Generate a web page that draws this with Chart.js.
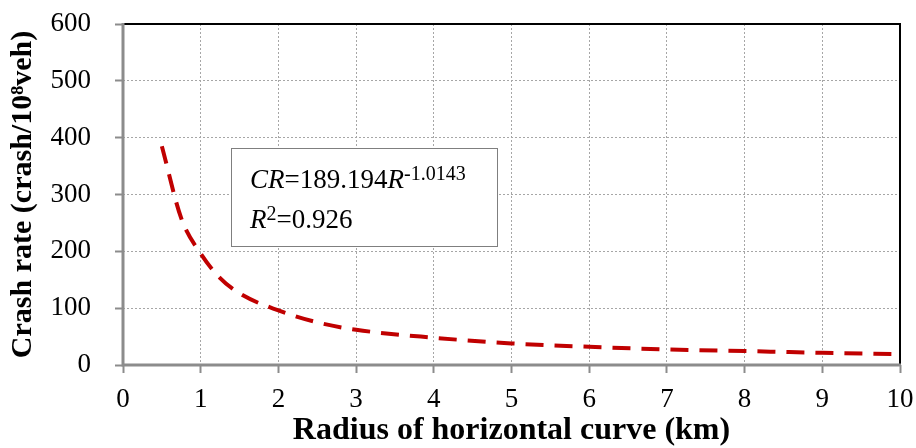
<!DOCTYPE html>
<html>
<head>
<meta charset="utf-8">
<script src="https://cdn.jsdelivr.net/npm/chart.js@4"></script>
<style>
    html, body { margin: 0; padding: 0; background: #ffffff; }
    #wrap { width: 916px; height: 448px; }
</style>
</head>
<body>
<div id="wrap"><canvas id="crashChart" width="916" height="448"></canvas></div>
<script>
const radiusKm = [0.5, 0.75, 1, 1.25, 1.5, 2, 2.5, 3, 4, 5, 6, 7, 8, 9, 10];
const crashRate = [385, 258, 196, 153, 126, 96, 75, 62, 48, 38, 32, 27.5, 24.5, 21.5, 19];
const xTicks = [0, 1, 2, 3, 4, 5, 6, 7, 8, 9, 10];
const yTicks = [0, 100, 200, 300, 400, 500, 600];

const serif = '"Liberation Serif", "Times New Roman", serif';

// frame: gray left/bottom axes, black top/right border
const framePlugin = {
    id: 'frame',
    afterDraw(chart) {
        const { ctx, chartArea: a } = chart;
        ctx.save();
        ctx.lineWidth = 2;
        ctx.strokeStyle = '#000000';
        ctx.beginPath();
        ctx.moveTo(a.left, a.top);
        ctx.lineTo(a.right, a.top);
        ctx.lineTo(a.right, a.bottom);
        ctx.stroke();
        ctx.strokeStyle = '#8c8c8c';
        ctx.lineWidth = 3;
        ctx.beginPath();
        ctx.moveTo(a.left, a.top - 1);
        ctx.lineTo(a.left, a.bottom);
        ctx.lineTo(a.right + 1, a.bottom);
        ctx.stroke();
        ctx.restore();
    }
};

// equation box
const equationPlugin = {
    id: 'equation',
    afterDraw(chart) {
        const { ctx, chartArea: a } = chart;
        const left = a.left + 108;
        const top = a.top + 124;
        ctx.save();
        ctx.fillStyle = '#ffffff';
        ctx.fillRect(left, top, 266, 98);
        ctx.strokeStyle = '#7f7f7f';
        ctx.lineWidth = 1;
        ctx.strokeRect(left + 0.5, top + 0.5, 266, 98);

        ctx.fillStyle = '#000000';
        ctx.textBaseline = 'alphabetic';
        let x = left + 19;
        let y = top + 40;
        const parts1 = [
            ['italic 27px ' + serif, 'CR', 0],
            ['27px ' + serif, '=189.194', 0],
            ['italic 27px ' + serif, 'R', 0],
            ['20px ' + serif, '-1.0143', -8]
        ];
        parts1.forEach(([font, text, dy]) => {
            ctx.font = font;
            ctx.fillText(text, x, y + dy);
            x += ctx.measureText(text).width;
        });
        x = left + 19;
        y = top + 80;
        const parts2 = [
            ['italic 27px ' + serif, 'R', 0],
            ['20px ' + serif, '2', -8],
            ['27px ' + serif, '=0.926', 0]
        ];
        parts2.forEach(([font, text, dy]) => {
            ctx.font = font;
            ctx.fillText(text, x, y + dy);
            x += ctx.measureText(text).width;
        });
        ctx.restore();
    }
};

new Chart(document.getElementById('crashChart'), {
    type: 'line',
    data: {
        datasets: [{
            data: radiusKm.map((r, i) => ({ x: r, y: crashRate[i] })),
            borderColor: '#c00000',
            borderWidth: 4,
            borderDash: [18, 11],
            pointRadius: 0,
            cubicInterpolationMode: 'monotone',
            fill: false
        }]
    },
    options: {
        responsive: false,
        animation: false,
        layout: { padding: { top: 24, right: 16, left: 0, bottom: 0 } },
        plugins: { legend: { display: false }, tooltip: { enabled: false } },
        scales: {
            x: {
                type: 'linear',
                min: 0,
                max: 10,
                afterBuildTicks: (scale) => { scale.ticks = xTicks.map((v) => ({ value: v })); },
                afterFit: (scale) => {
                    scale.height = 83;
                    scale.paddingLeft = 0;
                    scale.paddingRight = 0;
                },
                ticks: {
                    color: '#000000',
                    font: { family: serif, size: 27 },
                    padding: 11,
                    maxRotation: 0
                },
                grid: {
                    color: (c) => (c.tick && (c.tick.value === 0 || c.tick.value === 10)) ? 'rgba(0,0,0,0)' : '#a6a6a6',
                    tickColor: '#8c8c8c',
                    tickLength: 8,
                    tickWidth: 2,
                    tickBorderDash: [],
                    lineWidth: 1
                },
                border: { display: false, dash: [2, 2] },
                title: {
                    display: true,
                    text: 'Radius of horizontal curve (km)',
                    color: '#000000',
                    font: { family: serif, size: 32, weight: 'bold', lineHeight: 1.05 },
                    padding: { top: 0, bottom: 0 }
                }
            },
            y: {
                min: 0,
                max: 600,
                afterBuildTicks: (scale) => { scale.ticks = yTicks.map((v) => ({ value: v })); },
                afterFit: (scale) => {
                    scale.width = 123;
                    scale.paddingTop = 0;
                    scale.paddingBottom = 0;
                },
                ticks: {
                    color: '#000000',
                    font: { family: serif, size: 27 },
                    padding: 24
                },
                grid: {
                    color: (c) => (c.tick && (c.tick.value === 0 || c.tick.value === 600)) ? 'rgba(0,0,0,0)' : '#a6a6a6',
                    tickColor: '#8c8c8c',
                    tickLength: 8,
                    tickWidth: 2,
                    tickBorderDash: [],
                    lineWidth: 1
                },
                border: { display: false, dash: [2, 2] },
                title: {
                    display: true,
                    text: 'Crash rate (crash/10⁸veh)',
                    color: '#000000',
                    font: { family: serif, size: 30, weight: 'bold' },
                    padding: { top: 5, bottom: 0 }
                }
            }
        }
    },
    plugins: [framePlugin, equationPlugin]
});
</script>
</body>
</html>
